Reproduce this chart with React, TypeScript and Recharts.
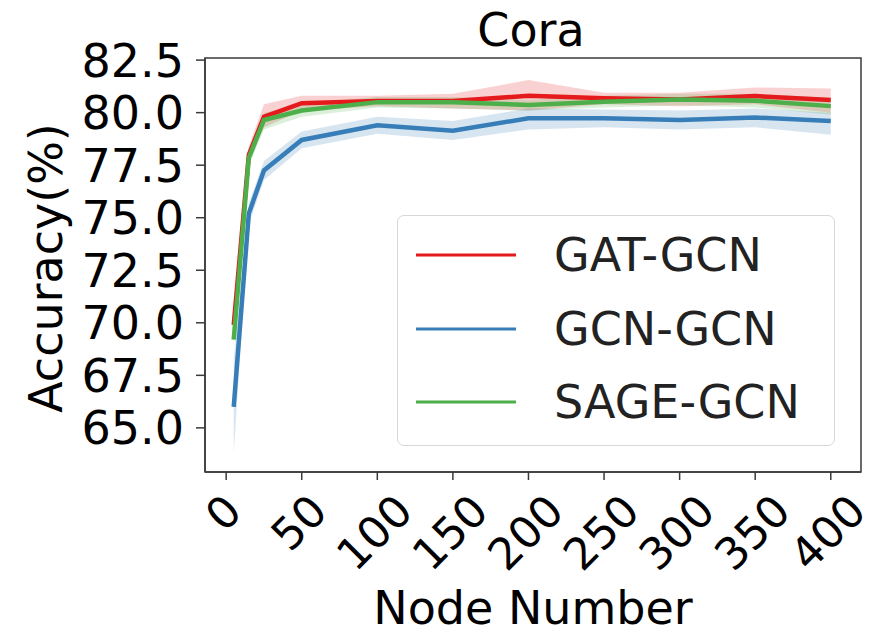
import React from "react";
import {
  ComposedChart,
  Line,
  Area,
  XAxis,
  YAxis,
  Legend,
  Label,
  ReferenceArea,
  Customized,
} from "recharts";

const nodeNumbers = [5, 15, 25, 50, 100, 150, 200, 250, 300, 350, 400];

const gatMean = [69.9, 78.0, 79.8, 80.45, 80.55, 80.55, 80.8, 80.68, 80.63, 80.79, 80.6];
const gatLow = [69.6, 77.6, 79.3, 80.1, 80.3, 80.2, 80.1, 80.4, 80.3, 80.4, 80.0];
const gatHigh = [70.3, 78.4, 80.4, 80.8, 80.8, 80.9, 81.55, 80.95, 80.95, 81.2, 81.15];

const gcnMean = [66.0, 75.2, 77.25, 78.7, 79.4, 79.14, 79.73, 79.73, 79.65, 79.77, 79.6];
const gcnLow = [63.8, 74.7, 76.8, 78.3, 79.0, 78.7, 79.2, 79.3, 79.2, 79.3, 78.95];
const gcnHigh = [68.2, 75.7, 77.7, 79.1, 79.8, 79.6, 80.2, 80.15, 80.1, 80.2, 80.0];

const sageMean = [69.2, 77.85, 79.65, 80.1, 80.5, 80.5, 80.36, 80.52, 80.63, 80.57, 80.31];
const sageLow = [68.9, 77.5, 79.2, 79.8, 80.25, 80.2, 80.1, 80.25, 80.35, 80.25, 79.9];
const sageHigh = [69.5, 78.2, 80.0, 80.4, 80.75, 80.75, 80.6, 80.8, 80.9, 80.9, 80.7];

const xTicks = [0, 50, 100, 150, 200, 250, 300, 350, 400];
const yTicks = [65.0, 67.5, 70.0, 72.5, 75.0, 77.5, 80.0, 82.5];

const seriesNames = ["GAT-GCN", "GCN-GCN", "SAGE-GCN"];
const colors = ["#e41a1c", "#377eb8", "#4daf4a"];

const X_DOMAIN: [number, number] = [-14, 420];
const Y_DOMAIN: [number, number] = [62.9, 82.6];

const data = nodeNumbers.map((x, i) => ({
  x,
  gat: gatMean[i],
  gatBand: [gatLow[i], gatHigh[i]],
  gcn: gcnMean[i],
  gcnBand: [gcnLow[i], gcnHigh[i]],
  sage: sageMean[i],
  sageBand: [sageLow[i], sageHigh[i]],
}));

const FONT = "'DejaVu Sans', sans-serif";
const FS = 46;
const XFS = 44;
const SPINE = "#3a3a3a";

const XTick = (props: any) => {
  const { x, y, payload } = props;
  const s = String(payload.value);
  const w = s.length * 0.636 * XFS;
  const h = XFS * 0.95;
  const bbox = (w + h) * Math.SQRT1_2;
  const cy = y + 6 + bbox / 2;
  const cx = x - 3;
  return (
    <text
      x={cx}
      y={cy}
      textAnchor="middle"
      dominantBaseline="central"
      transform={`rotate(-45, ${cx}, ${cy})`}
      fontFamily={FONT}
      fontSize={XFS}
      fill="#000"
    >
      {s}
    </text>
  );
};

const YTick = (props: any) => {
  const { x, y, payload } = props;
  return (
    <text
      x={x}
      y={y}
      dy="0.36em"
      textAnchor="end"
      fontFamily={FONT}
      fontSize={FS}
      fill="#000"
    >
      {Number(payload.value).toFixed(1)}
    </text>
  );
};

const LegendBox = (props: any) => {
  const items = (props.payload || []).filter((p: any) => p.type !== "none");
  return (
    <div
      style={{
        width: 438,
        height: 231,
        border: "1.5px solid #d8d8d8",
        borderRadius: 7,
        background: "rgba(255,255,255,0.8)",
        boxSizing: "border-box",
        position: "relative",
      }}
    >
      {items.map((it: any, i: number) => (
        <div
          key={it.value}
          style={{
            position: "absolute",
            left: 0,
            top: 39 + i * 73.5 - 30,
            height: 60,
            display: "flex",
            alignItems: "center",
          }}
        >
          <svg width={140} height={60} style={{ display: "block" }}>
            <line x1={18} x2={118} y1={30} y2={30} stroke={it.color} strokeWidth={3} />
          </svg>
          <span
            style={{
              fontFamily: FONT,
              fontSize: FS,
              color: "#222",
              marginLeft: 16,
              lineHeight: "60px",
              whiteSpace: "nowrap",
            }}
          >
            {it.value}
          </span>
        </div>
      ))}
    </div>
  );
};

const Title = () => (
  <text x={531} y={46} textAnchor="middle" fontFamily={FONT} fontSize={FS} fill="#000">
    Cora
  </text>
);

export default function App() {
  return (
    <div style={{ position: "absolute", left: 0, top: 0, width: 877, height: 635, background: "#fff" }}>
      <ComposedChart
        width={877}
        height={635}
        data={data}
        margin={{ top: 58, right: 16, bottom: 0, left: 0 }}
      >
        <XAxis
          xAxisId="main"
          dataKey="x"
          type="number"
          domain={X_DOMAIN}
          ticks={xTicks}
          allowDataOverflow
          height={163}
          tick={<XTick />}
          tickSize={8}
          tickLine={{ stroke: SPINE, strokeWidth: 1.5 }}
          axisLine={{ stroke: SPINE, strokeWidth: 1.5 }}
          interval={0}
        >
          <Label
            content={() => (
              <text x={533} y={624} textAnchor="middle" fontFamily={FONT} fontSize={FS} fill="#000">
                Node Number
              </text>
            )}
          />
        </XAxis>
        <YAxis
          yAxisId="main"
          type="number"
          domain={Y_DOMAIN}
          ticks={yTicks}
          allowDataOverflow
          width={205}
          tick={<YTick />}
          tickSize={9}
          tickMargin={12}
          tickLine={{ stroke: SPINE, strokeWidth: 1.5 }}
          axisLine={{ stroke: SPINE, strokeWidth: 1.5 }}
          interval={0}
        >
          <Label
            content={() => (
              <text
                x={62}
                y={268}
                textAnchor="middle"
                transform="rotate(-90, 62, 268)"
                fontFamily={FONT}
                fontSize={FS}
                fill="#000"
              >
                Accuracy(%)
              </text>
            )}
          />
        </YAxis>

        <ReferenceArea
          xAxisId="main"
          yAxisId="main"
          x1={X_DOMAIN[0]}
          x2={X_DOMAIN[1]}
          y1={Y_DOMAIN[0]}
          y2={Y_DOMAIN[1]}
          fill="none"
          fillOpacity={0}
          stroke={SPINE}
          strokeWidth={1.5}
          strokeOpacity={1}
          ifOverflow="visible"
        />

        <Line
          xAxisId="main"
          yAxisId="main"
          type="linear"
          dataKey="gat"
          name={seriesNames[0]}
          stroke={colors[0]}
          strokeWidth={4.5}
          dot={false}
          isAnimationActive={false}
        />
        <Area
          xAxisId="main"
          yAxisId="main"
          type="linear"
          dataKey="gatBand"
          fill={colors[0]}
          fillOpacity={0.2}
          stroke="none"
          legendType="none"
          isAnimationActive={false}
        />
        <Line
          xAxisId="main"
          yAxisId="main"
          type="linear"
          dataKey="gcn"
          name={seriesNames[1]}
          stroke={colors[1]}
          strokeWidth={4.5}
          dot={false}
          isAnimationActive={false}
        />
        <Area
          xAxisId="main"
          yAxisId="main"
          type="linear"
          dataKey="gcnBand"
          fill={colors[1]}
          fillOpacity={0.2}
          stroke="none"
          legendType="none"
          isAnimationActive={false}
        />
        <Line
          xAxisId="main"
          yAxisId="main"
          type="linear"
          dataKey="sage"
          name={seriesNames[2]}
          stroke={colors[2]}
          strokeWidth={4.5}
          dot={false}
          isAnimationActive={false}
        />
        <Area
          xAxisId="main"
          yAxisId="main"
          type="linear"
          dataKey="sageBand"
          fill={colors[2]}
          fillOpacity={0.2}
          stroke="none"
          legendType="none"
          isAnimationActive={false}
        />

        <Legend
          layout="vertical"
          align="center"
          verticalAlign="middle"
          content={<LegendBox />}
          wrapperStyle={{ position: "absolute", left: 397, top: 215, width: 438, height: 231 }}
        />
        <Customized component={<Title />} />
      </ComposedChart>
    </div>
  );
}
